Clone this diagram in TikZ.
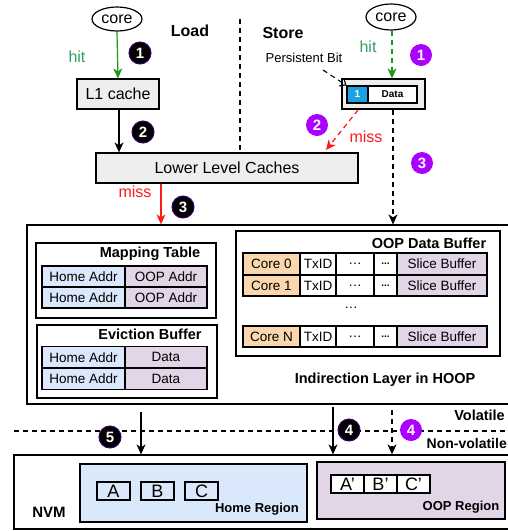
\documentclass[tikz,border=0pt]{standalone}
\usepackage{fontspec}
\setmainfont{Liberation Sans}
\usetikzlibrary{arrows.meta,shapes.geometric}
\definecolor{gbox}{HTML}{EEEEEE}
\definecolor{hblue}{HTML}{DAE8FC}
\definecolor{hpurp}{HTML}{E1D5E7}
\definecolor{horan}{HTML}{FAD7AC}
\definecolor{pbitc}{HTML}{1BA1E2}
\definecolor{violet}{HTML}{AA00FF}
\definecolor{dkpurp}{HTML}{3A0066}
\definecolor{arrgreen}{HTML}{1A991A}
\definecolor{hitgreen}{HTML}{2EA35F}
\definecolor{myred}{HTML}{FF1A1A}
\newcommand\fbig{\fontsize{16}{19}\selectfont}
\newcommand\ftbl{\fontsize{13.5}{15}\selectfont}
\newcommand\ftitle{\fontsize{14.5}{17}\selectfont\bfseries}
\newcommand\fsmall{\fontsize{10}{12}\selectfont\bfseries}
\tikzset{
  box/.style={draw, line width=1.2pt, inner sep=0pt},
  cell/.style={draw, line width=1.2pt, inner sep=0pt, font=\ftbl},
  bcirc/.style={circle, draw=dkpurp, line width=1pt, fill=black, text=white, minimum size=22pt, inner sep=0pt, font=\fontsize{15}{17}\selectfont\bfseries},
  pcirc/.style={circle, fill=violet, text=white, minimum size=22pt, inner sep=0pt, font=\fontsize{15}{17}\selectfont\bfseries},
  arr/.style={line width=1.2pt, -{Stealth[length=10pt,width=9pt,inset=3pt]}},
  dsh/.style={dash pattern=on 5pt off 4pt},
  lbl/.style={inner sep=0pt, font=\fbig},
}
\begin{document}
\begin{tikzpicture}[x=1pt,y=-1pt]
\useasboundingbox (0,0) rectangle (508,531);
\clip (0,0) rectangle (508,531);
\fill[white] (0,0) rectangle (508,531);

% cores
\node[ellipse, draw, line width=1.2pt, minimum width=50pt, minimum height=24pt, inner sep=0pt, font=\fbig] (coreL) at (117,19) {core};
\node[ellipse, draw, line width=1.2pt, minimum width=50pt, minimum height=26pt, inner sep=0pt, font=\fbig] (coreR) at (391,17) {core};

\node[lbl, font=\fbig\bfseries] (load) at (190,31) {Load};
\node[lbl, font=\fbig\bfseries] (store) at (283,33) {Store};
\node[lbl, text=hitgreen] (hitL) at (77,57) {hit};
\node[lbl, text=hitgreen] (hitR) at (368,47) {hit};

% load path
\node[box, fill=gbox, minimum width=82pt, minimum height=30pt, font=\fbig] (l1) at (118,94) {L1 cache};
\node[box, fill=gbox, minimum width=262pt, minimum height=30pt, font=\fbig] (llc) at (227,168) {Lower Level Caches};
\coordinate (divtop) at (240,19);
\coordinate (divbot) at (240,152);
\draw[line width=1.2pt, dsh] (divtop) -- (divbot);

% store buffer
\node[box, fill=gbox, minimum width=83pt, minimum height=30pt] (pbuf) at (383.5,94) {};
\node[box, fill=pbitc, text=white, minimum width=21pt, minimum height=17pt, font=\fsmall] (pbit) at (357.5,94.5) {1};
\node[box, fill=white, minimum width=49pt, minimum height=17pt, font=\fsmall] (pdata) at (392.5,94.5) {Data};
\node[lbl, font=\fontsize{13}{15}\selectfont] (pers) at (304,58) {Persistent Bit};
\coordinate (persA) at (323,70);
\draw[line width=1.1pt, dsh, -{Straight Barb[length=5pt,width=9pt]}] (persA) -- (pbit.north west);

% indirection layer
\node[box, minimum width=493pt, minimum height=179pt] (ind) at (273.5,314.5) {};
\node[lbl, font=\ftitle] (indl) at (385,380) {Indirection Layer in HOOP};

% arrows top
\draw[arr, arrgreen] (coreL.south) -- (l1.north);
\coordinate (x119) at (119,0);
\draw[arr] (l1.south -| x119) -- (llc.north -| x119);
\coordinate (x161) at (161,0);
\draw[arr, myred] (llc.south -| x161) -- (ind.north -| x161);
\node[lbl, text=myred] (missL) at (135,192) {miss};
\coordinate (x392) at (392,0);
\draw[arr, arrgreen, dsh] (coreR.south -| x392) -- (pbuf.north -| x392);
\coordinate (redA) at (358,110);
\coordinate (redB) at (326,150);
\draw[arr, myred, dsh] (redA) -- (redB);
\node[lbl, text=myred] (missR) at (366,137) {miss};
\coordinate (x393) at (393,0);
\draw[arr, dsh] (pbuf.south -| x393) -- (ind.north -| x393);

% circles
\node[bcirc] (c1) at (140,53) {1};
\node[bcirc] (c2) at (143,132) {2};
\node[bcirc] (c3) at (183,207) {3};
\node[pcirc] (p1) at (421,55) {1};
\node[pcirc] (p2) at (317,125) {2};
\node[pcirc] (p3) at (422,163) {3};

% mapping table
\node[box, minimum width=180pt, minimum height=75pt] (mt) at (126,280.5) {};
\node[lbl, font=\ftitle] (mtl) at (150,254) {Mapping Table};
\node[cell, fill=hblue, minimum width=83pt, minimum height=21pt] (mt11) at (83.5,276.5) {Home Addr};
\node[cell, fill=hpurp, minimum width=82pt, minimum height=21pt] (mt12) at (166,276.5) {OOP Addr};
\node[cell, fill=hblue, minimum width=83pt, minimum height=21pt] (mt21) at (83.5,297.5) {Home Addr};
\node[cell, fill=hpurp, minimum width=82pt, minimum height=21pt] (mt22) at (166,297.5) {OOP Addr};

% eviction buffer
\node[box, minimum width=180pt, minimum height=73pt] (eb) at (127,361.5) {};
\node[lbl, font=\ftitle] (ebl) at (150,334) {Eviction Buffer};
\node[cell, fill=hblue, minimum width=83pt, minimum height=21.5pt] (eb11) at (83.5,357.25) {Home Addr};
\node[cell, fill=hpurp, minimum width=82pt, minimum height=21.5pt] (eb12) at (166,357.25) {Data};
\node[cell, fill=hblue, minimum width=83pt, minimum height=21.5pt] (eb21) at (83.5,378.75) {Home Addr};
\node[cell, fill=hpurp, minimum width=82pt, minimum height=21.5pt] (eb22) at (166,378.75) {Data};

% OOP data buffer
\node[box, minimum width=264pt, minimum height=125pt] (ob) at (368,293.5) {};
\node[lbl, font=\ftitle] (obl) at (429,243) {OOP Data Buffer};
\foreach \r/\y/\h/\c in {a/264/22/Core 0, b/285.5/21/Core 1, n/336.5/21/Core N}{
  \node[cell, fill=horan, minimum width=57pt, minimum height=\h pt] (ob\r1) at (271.5,\y) {\c};
  \node[cell, fill=white, minimum width=36pt, minimum height=\h pt] (ob\r2) at (318,\y) {TxID};
  \node[cell, fill=white, minimum width=38pt, minimum height=\h pt] (ob\r3) at (355,\y) {\ldots};
  \node[cell, fill=white, minimum width=23pt, minimum height=\h pt, font=\fsmall] (ob\r4) at (385.5,\y) {...};
  \node[cell, fill=hpurp, minimum width=90pt, minimum height=\h pt] (ob\r5) at (442,\y) {Slice Buffer};
}
\node[lbl, font=\ftbl] (obdots) at (351,308) {\ldots};

% volatile divider
\coordinate (volL) at (14,431);
\coordinate (volR) at (520,431);
\draw[line width=1.2pt, dsh] (volL) -- (volR);
\node[lbl, font=\ftitle, anchor=east] (vol) at (505,415) {Volatile};
\node[lbl, font=\fontsize{14}{17}\selectfont\bfseries, anchor=east] (nvol) at (507,443) {Non-volatile};

% NVM
\node[box, minimum width=506pt, minimum height=74pt] (nvm) at (267,492) {};
\node[lbl, font=\fontsize{15}{17}\selectfont\bfseries] (nvml) at (49,512) {NVM};
\node[box, fill=hblue, minimum width=227pt, minimum height=58pt] (home) at (193.5,493) {};
\node[box, minimum width=33pt, minimum height=18pt, font=\fontsize{18}{20}\selectfont] (ha) at (113.5,491) {A};
\node[box, minimum width=33pt, minimum height=18pt, font=\fontsize{18}{20}\selectfont] (hb) at (157.5,491) {B};
\node[box, minimum width=33pt, minimum height=18pt, font=\fontsize{18}{20}\selectfont] (hc) at (201.5,491) {C};
\node[lbl, font=\fontsize{13}{15}\selectfont\bfseries] (homel) at (257,509) {Home Region};
\node[box, fill=hpurp, minimum width=188pt, minimum height=57pt] (oopr) at (411,490.5) {};
\node[box, fill=white, minimum width=33pt, minimum height=18pt, font=\fontsize{18}{20}\selectfont] (oa) at (347.5,484) {A'};
\node[box, fill=white, minimum width=33pt, minimum height=18pt, font=\fontsize{18}{20}\selectfont] (obb) at (380.5,484) {B'};
\node[box, fill=white, minimum width=33pt, minimum height=18pt, font=\fontsize{18}{20}\selectfont] (oc) at (413.5,484) {C'};
\node[lbl, font=\fontsize{13}{15}\selectfont\bfseries] (oopl) at (461,507) {OOP Region};

% bottom arrows
\coordinate (a5s) at (141,412);
\draw[arr] (a5s) -- (nvm.north -| a5s);
\coordinate (a4s) at (333,407);
\draw[arr] (a4s) -- (nvm.north -| a4s);
\coordinate (a4ps) at (392,410);
\draw[arr, dsh] (a4ps) -- (nvm.north -| a4ps);
\node[bcirc] (c5) at (110,437) {5};
\node[bcirc] (c4) at (349,430) {4};
\node[pcirc] (p4) at (411,430) {4};
\end{tikzpicture}
\end{document}
